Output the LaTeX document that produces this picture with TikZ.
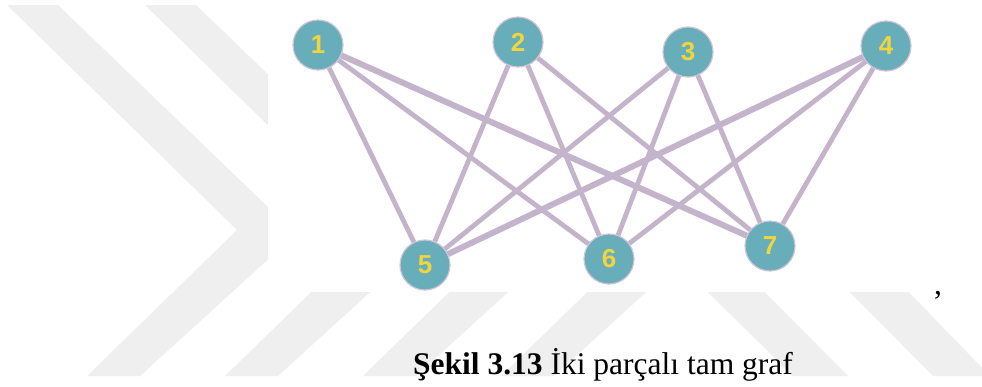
\documentclass[tikz,border=0pt]{standalone}
\usepackage{fontspec}
\setmainfont{Liberation Serif}
\newfontfamily\labelfont{Liberation Sans}
\pgfdeclarelayer{wm}
\pgfdeclarelayer{edges}
\pgfsetlayers{wm,edges,main}
\definecolor{nodefill}{HTML}{67AEBA}
\definecolor{nodering}{HTML}{D3C3D6}
\definecolor{labelyellow}{HTML}{F2D43C}
\definecolor{edgecol}{HTML}{C4B4CB}
\definecolor{wmgrey}{HTML}{EFEFEF}
\begin{document}
\begin{tikzpicture}[x=1pt,y=-1pt,
  vtx/.style={circle, fill=nodefill, draw=nodering, line width=1.2pt,
    minimum size=50pt, inner sep=0pt,
    font=\labelfont\bfseries\fontsize{26}{26}\selectfont, text=labelyellow},
  edge/.style={draw=edgecol, line width=4.8pt},
  thickedge/.style={draw=edgecol, line width=6pt},
  wm/.style={fill=wmgrey, draw=none}]
\useasboundingbox (0,0) rectangle (982,386);
% nodes
\node[vtx] (n1) at (318,45) {1};
\node[vtx] (n2) at (518,42) {2};
\node[vtx] (n3) at (688,52) {3};
\node[vtx] (n4) at (886,46) {4};
\node[vtx] (n5) at (425,265) {5};
\node[vtx] (n6) at (609,259) {6};
\node[vtx] (n7) at (770,246) {7};
% edges
\begin{pgfonlayer}{edges}
\draw[edge] (n1.center) -- (n5.center);
\draw[edge] (n1.center) -- (n6.center);
\draw[thickedge] (n1.center) -- (n7.center);
\draw[edge] (n2.center) -- (n5.center);
\draw[edge] (n2.center) -- (n6.center);
\draw[edge] (n2.center) -- (n7.center);
\draw[edge] (n3.center) -- (n5.center);
\draw[edge] (n3.center) -- (n6.center);
\draw[edge] (n3.center) -- (n7.center);
\draw[thickedge] (n4.center) -- (n5.center);
\draw[edge] (n4.center) -- (n6.center);
\draw[edge] (n4.center) -- (n7.center);
\end{pgfonlayer}
% watermark
\begin{pgfonlayer}{wm}
\fill[white] (0,0) rectangle (982,386);
\foreach \s in {0,138,276,414} {
  \fill[wm] (7+\s,5) -- (58+\s,5) -- (296+\s,234) -- (140+\s,376) -- (87+\s,376) -- (237+\s,230) -- cycle;
}
\fill[wm] (665,250) -- (723,250) -- (848,376) -- (793,376) -- cycle;
\fill[wm] (808,250) -- (868,250) -- (990,376) -- (933,376) -- cycle;
\fill[white] (268,0) rectangle (982,292);
\end{pgfonlayer}
% caption
\node[anchor=base, inner sep=0pt, font=\fontsize{31.5}{36}\selectfont] (cap) at (603,374)
  {{\bfseries Şekil 3.13} İki parçalı tam graf};
\node[anchor=base, inner sep=0pt, font=\fontsize{31.5}{36}\selectfont] (comma) at (938,294) {,};
\end{tikzpicture}
\end{document}
